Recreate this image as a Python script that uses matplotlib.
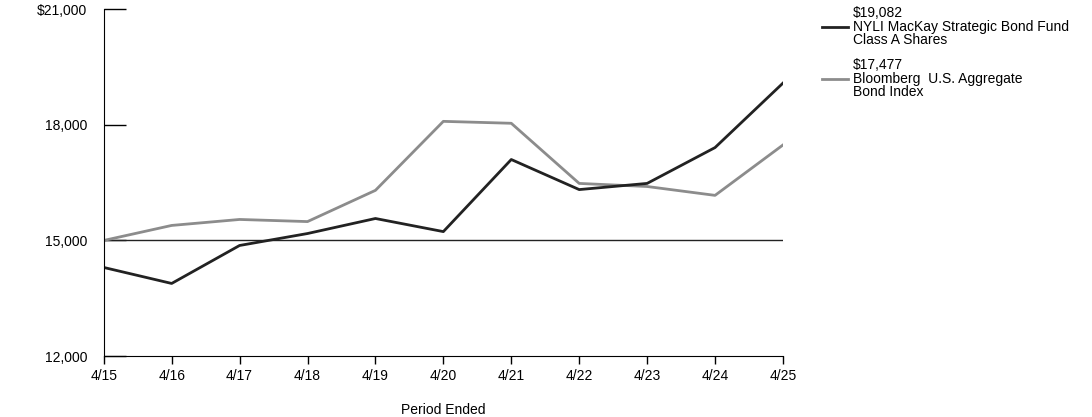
import matplotlib
matplotlib.use("Agg")
import matplotlib.pyplot as plt

periods = ["4/15","4/16","4/17","4/18","4/19","4/20","4/21","4/22","4/23","4/24","4/25"]
fund = [14300,13885,14870,15180,15570,15230,17100,16320,16480,17410,19082]
index = [15000,15390,15545,15490,16300,18090,18040,16480,16400,16170,17477]
fund_label = "$19,082\nNYLI MacKay Strategic Bond Fund\nClass A Shares"
index_label = "$17,477\nBloomberg  U.S. Aggregate\nBond Index"
yticks = [12000,15000,18000,21000]

plt.rcParams['font.family'] = ['Liberation Sans', 'DejaVu Sans']
fig = plt.figure(figsize=(10.92,4.17), dpi=100)
ax = fig.add_axes([0.095,0.146,0.622,0.832])
x = list(range(len(periods)))
ax.axhline(15000, color="#222222", lw=1)
ax.plot(x, index, color="#8c8c8c", lw=2)
ax.plot(x, fund, color="#222222", lw=2)
ax.set_xlim(0, len(periods)-1)
ax.set_ylim(12000, 21000)
ax.set_xticks(x)
ax.set_xticklabels(periods, fontsize=10)
ax.set_yticks(yticks)
ax.set_yticklabels([("$" if v==21000 else "")+f"{v:,}" for v in yticks], fontsize=10)
ax.tick_params(axis='y', direction='in', length=16, width=1, pad=12)
ax.tick_params(axis='x', direction='out', length=6, width=1)
for s in ["top","right"]:
    ax.spines[s].set_visible(False)
ax.set_xlabel("Period Ended", fontsize=10, labelpad=14)

fig.lines.append(plt.Line2D([0.753,0.777],[0.935,0.935], color="#222222", lw=2, transform=fig.transFigure))
fig.text(0.781,0.985,fund_label, fontsize=10, va="top", linespacing=0.95)
fig.lines.append(plt.Line2D([0.753,0.777],[0.81,0.81], color="#8c8c8c", lw=2, transform=fig.transFigure))
fig.text(0.781,0.86,index_label, fontsize=10, va="top", linespacing=0.95)
fig.savefig("out.png", dpi=100)
